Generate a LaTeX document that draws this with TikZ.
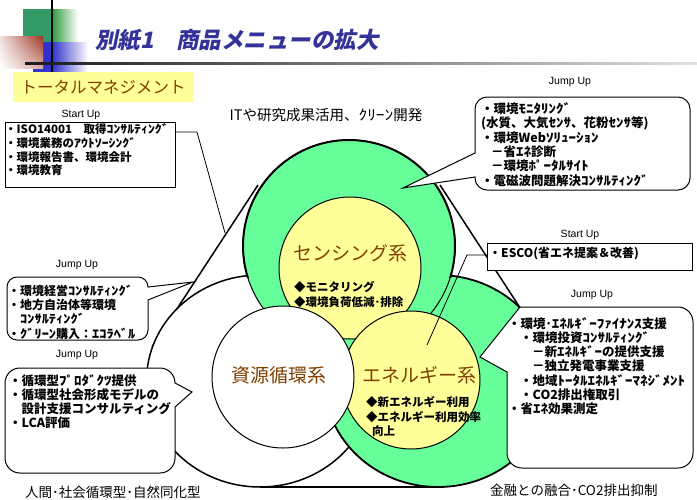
\documentclass[tikz,border=0pt]{standalone}
\usepackage{fontspec}
\usetikzlibrary{shadings}
\setmainfont{Noto Sans CJK JP}
\newfontfamily\latf{Liberation Sans}
\newfontfamily\ttlf{Noto Sans CJK JP}[FakeSlant=0.2]
\newfontfamily\hwf{Noto Sans CJK JP}[FakeStretch=1.2]
\newcommand\hw[1]{{\hwf #1}}
\definecolor{grn}{HTML}{66FF99}
\definecolor{ylw}{HTML}{FFFF99}
\definecolor{brn}{HTML}{804000}
\definecolor{ttlblue}{HTML}{333399}
\definecolor{decoGreen}{HTML}{339966}
\definecolor{decoGreen2}{HTML}{2E9B3A}
\definecolor{decoBlue}{HTML}{3333CC}
\definecolor{decoRed}{HTML}{9E3322}
\begin{document}
\begin{tikzpicture}[x=1pt,y=-1pt,
  lbl/.style={font=\latf\fontsize{10.5}{12}\selectfont, inner sep=0},
  btxt/.style={font=\bfseries\fontsize{12}{14.4}\selectfont, align=left, anchor=north west, inner sep=0},
  clbl/.style={font=\fontsize{19}{22}\selectfont, text=brn, inner sep=0},
  ctxt/.style={font=\bfseries\fontsize{11.5}{14.5}\selectfont, align=left, anchor=north west, inner sep=0},
  bub/.style={draw=black, line width=1pt, fill=white},
  edge/.style={line width=1.5pt},
  conn/.style={line width=0.8pt},
]
\useasboundingbox (0,0) rectangle (697,499);
\fill[white] (0,0) rectangle (697,499);

% ---- decoration top left (upright y inside this scope)
\begin{scope}[y=1pt]
\fill[decoGreen] (23,-9) rectangle (52,-42);
\shade[left color=decoGreen2, right color=white] (52,-9) rectangle (78,-42);
\fill[decoBlue] (33,-42) rectangle (52,-72);
\shade[left color=decoBlue, right color=white] (52,-42) rectangle (88,-72);
\shade[upper left=decoRed!15, upper right=decoRed, lower left=white, lower right=decoRed!40] (0,-68) rectangle (43,-36);
\end{scope}
\draw[line width=2pt] (52,0) -- (52,72);
\shade[left color=black!90, right color=black!12] (25,62) rectangle (697,64.5);

\node[anchor=west, font=\ttlf\bfseries\fontsize{22.5}{25}\selectfont, text=ttlblue, inner sep=0] (title) at (95,40) {別紙1　商品メニューの拡大};

\node[fill=ylw, anchor=north west, minimum width=180pt, minimum height=30pt, inner sep=0] (tm) at (13,72) {};
\node[font=\fontsize{16.5}{18}\selectfont, text=brn, inner sep=0] (tmt) at (tm.center) {トータルマネジメント};

% ---- big shapes
\coordinate (cT) at (349,246);
\coordinate (cL) at (260,381);
\coordinate (cR) at (438,381);
\coordinate (tL1) at (258,185);
\coordinate (tL2) at (152,347);
\coordinate (tR1) at (440,185);
\coordinate (tR2) at (528,320);
\coordinate (tB1) at (260,487);
\coordinate (tB2) at (438,487);

\draw[edge] (tL1) -- (tL2);
\draw[edge] (tR1) -- (tR2);
\draw[edge] (tB1) -- (tB2);

\draw[edge, fill=white] (cL) ellipse[x radius=113.5pt, y radius=106pt];
\draw[line width=1.8pt, fill=grn] (cR) ellipse[x radius=113.5pt, y radius=106pt];
\draw[line width=1pt, fill=grn] (cT) circle[radius=106pt];
\begin{scope}
  \clip (0,0) rectangle (697,277);
  \draw[line width=2pt] (cT) circle[radius=106pt];
\end{scope}

\coordinate (cS) at (350,268);
\coordinate (cE) at (411,380);
\coordinate (cC) at (283,377);
\draw[line width=1pt, fill=ylw] (cS) circle[radius=71pt];
\draw[line width=1pt, fill=ylw] (cE) circle[radius=69pt];
\draw[line width=1pt, fill=white] (cC) circle[radius=71pt];

\node[clbl] (sensing) at (350,253) {センシング系};
\node[clbl] (shigen) at (279,375) {資源循環系};
\node[clbl] (energy) at (419,375) {エネルギー系};
\node[ctxt] (snt) at (294,281.5) {◆モニタリング\\◆環境負荷低減･排除};
\node[ctxt] (ent) at (366,396.5) {◆新エネルギー利用\\◆エネルギー利用効率\\\hspace*{6pt}向上};

\node[font=\fontsize{14.5}{16}\selectfont, inner sep=0] (it) at (326,115) {ITや研究成果活用、\hw{ｸﾘｰﾝ}開発};
\node[font=\fontsize{13.5}{15}\selectfont, anchor=west, inner sep=0] (bl) at (25,492) {人間･社会循環型･自然同化型};
\node[font=\fontsize{13.5}{15}\selectfont, anchor=west, inner sep=0] (br) at (490,490) {金融との融合･CO2排出抑制};

% ---- Start Up box (top left)
\node[lbl] (su1) at (81,115) {Start Up};
\node[draw, line width=1.2pt, fill=white, anchor=north west, minimum width=170pt, minimum height=65pt, inner sep=0] (sbox) at (5,122) {};
\node[btxt, font=\bfseries\fontsize{11.5}{13.7}\selectfont] (sbt) at (5,123.5) {・ISO14001　取得\hw{ｺﾝｻﾙﾃｨﾝｸﾞ}\\・環境業務の\hw{ｱｳﾄｿｰｼﾝｸﾞ}\\・環境報告書、環境会計\\・環境教育};
\coordinate (sp1) at (197,132);
\coordinate (sp2) at (225,233);
\draw[conn] (sbox.east |- sp1) -- (sp1) -- (sp2);

% ---- Jump Up bubble (top right)
\node[lbl] (ju1) at (570,82) {Jump Up};
\draw[bub] (403,188) -- (475,177) -- (475,178) .. controls (475,184.6) and (480.4,190) .. (487,190) -- (678,190) .. controls (684.6,190) and (690,184.6) .. (690,178) -- (690,109) .. controls (690,102.4) and (684.6,97) .. (678,97) -- (487,97) .. controls (480.4,97) and (475,102.4) .. (475,109) -- (475,153) -- cycle;
\node[btxt, font=\bfseries\fontsize{12.5}{14.4}\selectfont] (jt1) at (481,102.4) {・環境\hw{ﾓﾆﾀﾘﾝｸﾞ}\\(水質、大気\hw{ｾﾝｻ}、花粉\hw{ｾﾝｻ}等)\\・環境Web\hw{ｿﾘｭｰｼｮﾝ}\\\hspace*{10pt}－省\hw{ｴﾈ}診断\\\hspace*{10pt}－環境\hw{ﾎﾟｰﾀﾙｻｲﾄ}\\・電磁波問題解決\hw{ｺﾝｻﾙﾃｨﾝｸﾞ}};

% ---- ESCO box
\node[lbl] (su2) at (580,235) {Start Up};
\node[draw, line width=1.2pt, fill=white, anchor=north west, minimum width=205pt, minimum height=27pt, inner sep=0] (ebox) at (487,243) {};
\node[btxt, anchor=west, font=\bfseries\fontsize{12}{14}\selectfont] (ebt) at (489,254) {・ESCO(省エネ提案＆改善)};
\coordinate (ep1) at (467,255);
\coordinate (ep2) at (427,345);
\draw[conn] (ebox.west |- ep1) -- (ep1) -- (ep2);

% ---- Jump Up bubble (middle left)
\node[lbl] (ju2) at (77,265) {Jump Up};
\draw[bub] (193,282) -- (148,300) -- (148,330) .. controls (148,335.5) and (143.5,340) .. (138,340) -- (17,340) .. controls (11.5,340) and (7,335.5) .. (7,330) -- (7,287) .. controls (7,281.5) and (11.5,277) .. (17,277) -- (138,277) .. controls (143.5,277) and (148,281.5) .. (148,287) -- cycle;
\node[btxt] (jt2) at (8,284.6) {・環境経営\hw{ｺﾝｻﾙﾃｨﾝｸﾞ}\\・地方自治体等環境\\\hspace*{12pt}\hw{ｺﾝｻﾙﾃｨﾝｸﾞ}\\・\hw{ｸﾞﾘｰﾝ}購入：\hw{ｴｺﾗﾍﾞﾙ}};

% ---- Jump Up bubble (bottom left)
\node[lbl] (ju3) at (77,355) {Jump Up};
\draw[bub] (192,392) -- (175,407) -- (175,458) .. controls (175,466.3) and (168.3,473) .. (160,473) -- (20,473) .. controls (11.7,473) and (5,466.3) .. (5,458) -- (5,383) .. controls (5,374.7) and (11.7,368) .. (20,368) -- (160,368) .. controls (168.3,368) and (175,374.7) .. (175,383) -- cycle;
\node[btxt, font=\bfseries\fontsize{12.5}{14}\selectfont] (jt3) at (9,374.4) {・循環型\hw{ﾌﾟﾛﾀﾞｸﾂ}提供\\・循環型社会形成モデルの\\\hspace*{12.5pt}設計支援コンサルティング\\・LCA評価};

% ---- Jump Up bubble (bottom right)
\node[lbl] (ju4) at (592,295) {Jump Up};
\draw[bub] (480,357) -- (520,307) -- (678,307) .. controls (686.3,307) and (693,313.7) .. (693,322) -- (693,453) .. controls (693,461.3) and (686.3,468) .. (678,468) -- (522,468) .. controls (513.7,468) and (507,461.3) .. (507,453) -- (507,372) -- cycle;
\node[btxt, font=\bfseries\fontsize{12.5}{14.17}\selectfont] (jt4) at (508,317.4) {・環境･\hw{ｴﾈﾙｷﾞｰﾌｧｲﾅﾝｽ}支援\\\hspace*{12pt}・環境投資\hw{ｺﾝｻﾙﾃｨﾝｸﾞ}\\\hspace*{24pt}－新\hw{ｴﾈﾙｷﾞｰ}の提供支援\\\hspace*{24pt}－独立発電事業支援\\\hspace*{12pt}・地域\hw{ﾄｰﾀﾙｴﾈﾙｷﾞｰﾏﾈｼﾞﾒﾝﾄ}\\\hspace*{12pt}・CO2排出権取引\\・省\hw{ｴﾈ}効果測定};
\end{tikzpicture}
\end{document}
